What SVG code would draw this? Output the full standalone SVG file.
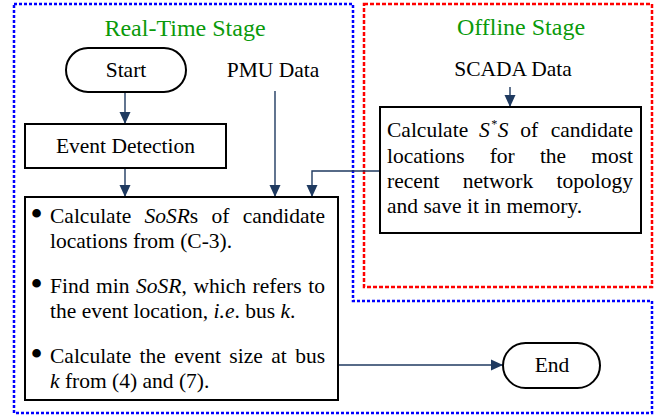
<svg xmlns="http://www.w3.org/2000/svg" width="667" height="420" viewBox="0 0 667 420">
  <defs>
    <marker id="arrow" viewBox="0 0 12 12" refX="12" refY="6" markerWidth="12" markerHeight="12" markerUnits="userSpaceOnUse" orient="auto">
      <path d="M0,0.5 L12,6 L0,11.5 Z" fill="#1f3a60"/>
    </marker>
    <style>
      text { font-family: "Liberation Serif", "Times New Roman", serif; font-size: 21.5px; fill: #000; }
      .title { font-size: 24px; fill: #0a9a0a; text-anchor: middle; }
      .mid { text-anchor: middle; }
      .end { text-anchor: end; }
      .it { font-style: italic; }
      .box { fill: #fff; stroke: #000; stroke-width: 2; }
      .conn { fill: none; stroke: #1f3a60; stroke-width: 1.4; }
      .stage-rt { fill: none; stroke: #0000ff; stroke-width: 2.5; stroke-dasharray: 3 2; }
      .stage-off { fill: none; stroke: #ff0000; stroke-width: 2.5; stroke-dasharray: 4 2; }
      .bullet { font-size: 36px; text-anchor: middle; }
    </style>
  </defs>

  <!-- stage boundaries -->
  <g id="stages">
    <path class="stage-rt" d="M14,4 H353 V301 H652 V413 H14 Z"/>
    <rect class="stage-off" x="364" y="4" width="288" height="283"/>
    <text class="title" x="185" y="36">Real-Time Stage</text>
    <text class="title" x="521" y="35">Offline Stage</text>
  </g>

  <!-- data sources -->
  <g id="pmu">
    <text class="mid" x="273" y="77">PMU Data</text>
  </g>
  <g id="scada">
    <text class="mid" x="513" y="76">SCADA Data</text>
  </g>

  <!-- connectors -->
  <g id="connectors">
    <line class="conn" x1="125" y1="92" x2="125" y2="124" marker-end="url(#arrow)"/>
    <line class="conn" x1="125" y1="168" x2="125" y2="197" marker-end="url(#arrow)"/>
    <line class="conn" x1="275" y1="91" x2="275" y2="197" marker-end="url(#arrow)"/>
    <polyline class="conn" points="380,171 312,171 312,197" marker-end="url(#arrow)"/>
    <line class="conn" x1="510" y1="87" x2="510" y2="107" marker-end="url(#arrow)"/>
    <line class="conn" x1="338" y1="365" x2="503" y2="365" marker-end="url(#arrow)"/>
  </g>

  <!-- start terminal -->
  <g id="start">
    <rect class="box" x="66" y="48" width="120" height="44" rx="22" ry="22"/>
    <text class="mid" x="126" y="77">Start</text>
  </g>

  <!-- event detection -->
  <g id="event-detection">
    <rect class="box" x="25" y="124" width="201" height="44"/>
    <text class="mid" x="125.5" y="153">Event Detection</text>
  </g>

  <!-- real-time processing steps -->
  <g id="realtime-steps">
    <rect class="box" x="25" y="197" width="313" height="203"/>
    <text class="bullet" x="36.5" y="226">•</text>
    <text class="bullet" x="36.5" y="296">•</text>
    <text class="bullet" x="36.5" y="366">•</text>

    <text y="223"><tspan x="50">Calculate</tspan><tspan x="144.4" class="it">SoSR</tspan><tspan>s</tspan><tspan x="211.4">of</tspan></text>
    <text class="end" x="325" y="223">candidate</text>
    <text x="50" y="248">locations from (C-3).</text>

    <text y="293"><tspan x="50">Find</tspan><tspan x="96">min</tspan><tspan x="136.1" class="it">SoSR</tspan><tspan>,</tspan><tspan x="193.5">which</tspan><tspan x="252.6">refers</tspan></text>
    <text class="end" x="325" y="293">to</text>
    <text x="50" y="318">the event location, <tspan class="it">i.e</tspan>. bus <tspan class="it">k</tspan>.</text>

    <text y="363"><tspan x="50">Calculate</tspan><tspan x="139.6">the</tspan><tspan x="174.3">event</tspan><tspan x="229.3">size</tspan><tspan x="271.2">at</tspan></text>
    <text class="end" x="325" y="363">bus</text>
    <text x="50" y="388"><tspan class="it">k</tspan> from (4) and (7).</text>
  </g>

  <!-- offline computation -->
  <g id="offline-step">
    <rect class="box" x="380" y="107" width="261" height="126"/>
    <text y="137"><tspan x="387">Calculate</tspan><tspan x="479" class="it">S</tspan><tspan class="it" font-size="12" dx="1" dy="-9">*</tspan><tspan class="it" dx="1" dy="9">S</tspan><tspan x="520.3">of</tspan></text>
    <text class="end" x="633" y="137">candidate</text>
    <text y="163"><tspan x="387">locations</tspan><tspan x="489.7">for</tspan><tspan x="539.9">the</tspan></text>
    <text class="end" x="633" y="163">most</text>
    <text y="188"><tspan x="387">recent</tspan><tspan x="462.8">network</tspan></text>
    <text class="end" x="633" y="188">topology</text>
    <text x="387" y="213">and save it in memory.</text>
  </g>

  <!-- end terminal -->
  <g id="end">
    <rect class="box" x="503" y="343" width="97" height="45" rx="22.5" ry="22.5"/>
    <text class="mid" x="552" y="372">End</text>
  </g>
</svg>
